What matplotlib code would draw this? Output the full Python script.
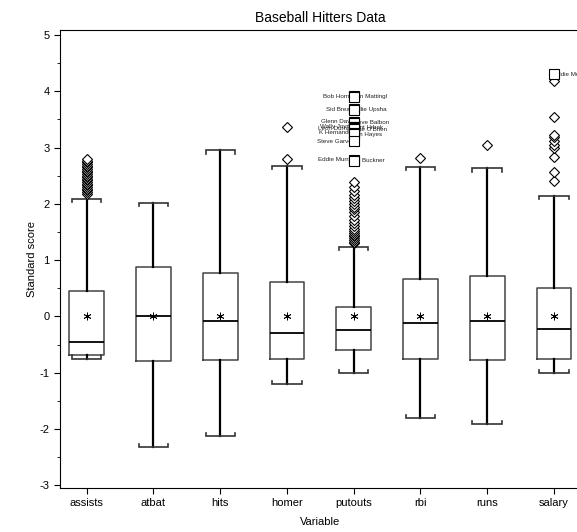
import numpy as np
import matplotlib
matplotlib.use('Agg')
import matplotlib.pyplot as plt

plt.rcParams['font.family'] = ['Liberation Sans', 'DejaVu Sans']
plt.rcParams['axes.unicode_minus'] = False

# standardized baseball hitter variables: box summaries (z-scores)
variables = ['assists', 'atbat', 'hits', 'homer', 'putouts', 'rbi', 'runs', 'salary']
whisker_lo = [-0.75, -2.33, -2.13, -1.21, -1.00, -1.80, -1.92, -1.00]
q1 = [-0.69, -0.80, -0.78, -0.75, -0.60, -0.75, -0.78, -0.75]
median = [-0.46, 0.00, -0.09, -0.29, -0.25, -0.12, -0.09, -0.23]
q3 = [0.45, 0.87, 0.78, 0.62, 0.16, 0.67, 0.71, 0.50]
whisker_hi = [2.08, 2.02, 2.95, 2.68, 1.23, 2.65, 2.63, 2.14]
means = [0, 0, 0, 0, 0, 0, 0, 0]

# mild outliers (diamonds)
outliers = {
    'assists': [2.18, 2.21, 2.24, 2.27, 2.30, 2.33, 2.36, 2.39, 2.42, 2.45, 2.48,
                2.50, 2.53, 2.56, 2.59, 2.62, 2.65, 2.68, 2.71, 2.74, 2.77, 2.80],
    'homer': [2.79, 3.37],
    'putouts': [1.31, 1.33, 1.36, 1.39, 1.42, 1.45, 1.48, 1.52, 1.56, 1.60, 1.66,
                1.72, 1.78, 1.86, 1.90, 1.95, 2.00, 2.05, 2.10, 2.15, 2.22, 2.30, 2.38],
    'rbi': [2.81],
    'runs': [3.05],
    'salary': [2.40, 2.56, 2.84, 3.00, 3.05, 3.11, 3.18, 3.23, 3.55, 4.18],
}

# extreme outliers (squares), labelled by player
extreme_var = ['putouts'] * 15 + ['salary']
extreme_val = [3.91, 3.90, 3.68, 3.67, 3.46, 3.44, 3.37, 3.36, 3.34, 3.33,
               3.26, 3.24, 3.11, 2.78, 2.77, 4.30]
extreme_name = ['Bob Horner', 'Don Mattingly', 'Sid Bream', 'Willie Upshaw',
                'Glenn Davis', 'Steve Balboni', 'Wally Joyner', 'Kent Hrbek',
                'Leon Durham', "Pete O'Brien", 'K Hernandez', 'Von Hayes',
                'Steve Garvey', 'Eddie Murray', 'Bill Buckner', 'Eddie Murray']
extreme_side = ['L', 'R', 'L', 'R', 'L', 'R', 'L', 'R', 'L', 'R', 'L', 'R',
                'L', 'L', 'R', 'R']

fig = plt.figure(figsize=(5.77, 5.32), dpi=100)
ax = fig.add_axes([60 / 577, 1 - 488 / 532, 520.6 / 577, 458 / 532])

pos = np.arange(1, len(variables) + 1)
stats = []
for i, v in enumerate(variables):
    stats.append(dict(med=median[i], q1=q1[i], q3=q3[i], whislo=whisker_lo[i],
                      whishi=whisker_hi[i], mean=means[i], fliers=[]))

ax.bxp(stats, positions=pos, widths=0.52, showcaps=False, showfliers=False,
       showmeans=True,
       boxprops=dict(color='#444444', linewidth=1.1),
       medianprops=dict(color='black', linewidth=1.3),
       whiskerprops=dict(color='black', linewidth=1.6),
       meanprops=dict(marker=(6, 2, 0), markersize=5.5, markeredgecolor='black',
                      markerfacecolor='black', markeredgewidth=0.6))

# bracket caps
cw = 0.22
tick = 0.055
for p, lo, hi in zip(pos, whisker_lo, whisker_hi):
    ax.plot([p - cw, p - cw, p + cw, p + cw], [hi - tick, hi, hi, hi - tick],
            color='#333333', lw=1.2, solid_joinstyle='miter')
    ax.plot([p - cw, p - cw, p + cw, p + cw], [lo + tick, lo, lo, lo + tick],
            color='#333333', lw=1.2, solid_joinstyle='miter')

for v, vals in outliers.items():
    p = pos[variables.index(v)]
    ax.plot([p] * len(vals), vals, linestyle='none', marker='D', markersize=5.2,
            markerfacecolor='white', markeredgecolor='black', markeredgewidth=0.8,
            zorder=3)

# point labels are cut to 12 characters
for v, val, name, side in zip(extreme_var, extreme_val, extreme_name, extreme_side):
    p = pos[variables.index(v)]
    if side == 'L':
        ax.text(p + 0.02, val, name[:12], ha='right', va='center', fontsize=4.5,
                color='#222222', zorder=3)
    else:
        ax.text(p - 0.02, val, name[:12], ha='left', va='center', fontsize=4.5,
                color='#222222', zorder=3)
    ax.plot(p, val, linestyle='none', marker='s', markersize=7.5,
            markerfacecolor='white', markeredgecolor='black', markeredgewidth=0.8,
            zorder=4)

ax.set_xlim(0.6, 8.4)
ax.set_ylim(-3.05, 5.09)
ax.set_xticks(pos)
ax.set_xticklabels(variables)
ax.set_yticks(np.arange(-3, 6))
ax.set_yticks(np.arange(-3, 5.5, 0.5), minor=True)
ax.tick_params(axis='both', which='major', labelsize=8, length=4, direction='out')
ax.tick_params(axis='y', which='minor', length=2.5, direction='out')
ax.spines['right'].set_visible(False)

ax.set_title('Baseball Hitters Data', fontsize=10, pad=6)
ax.set_xlabel('Variable', fontsize=8, labelpad=6)
ax.set_ylabel('Standard score', fontsize=8, labelpad=2)

fig.savefig('out.png', dpi=100)
